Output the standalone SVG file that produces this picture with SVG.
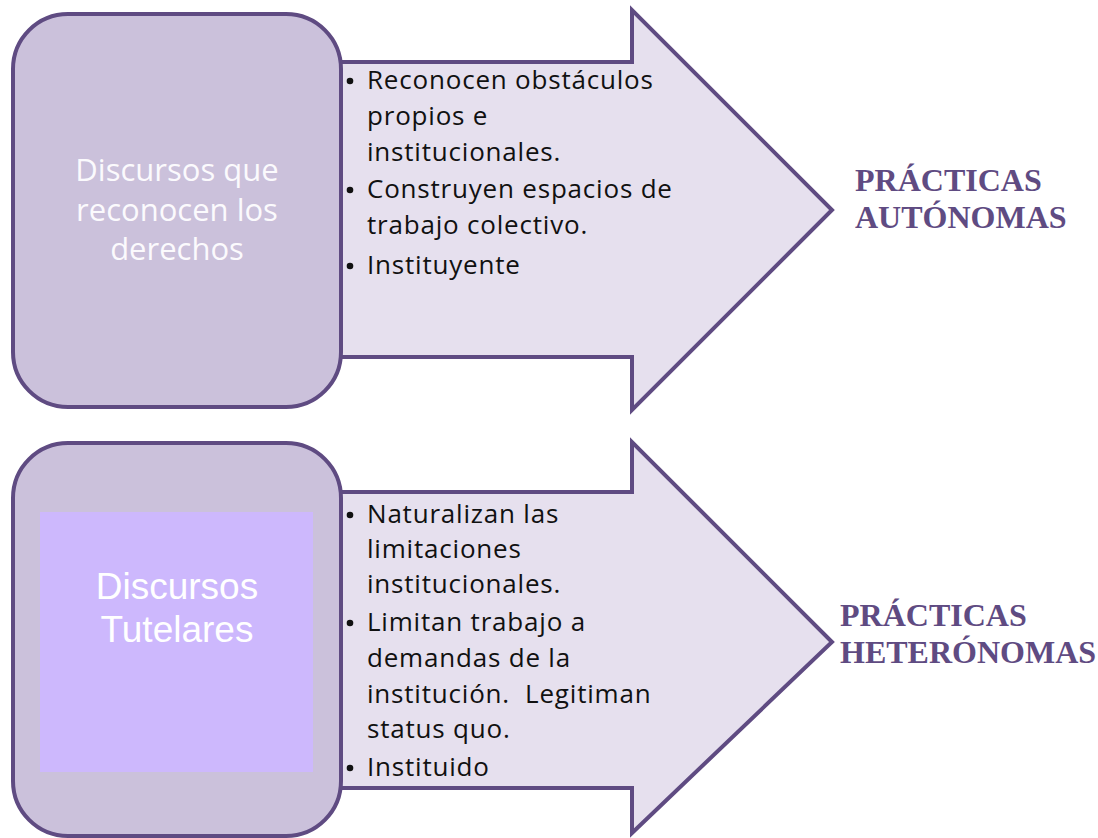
<svg xmlns="http://www.w3.org/2000/svg" width="1098" height="838" viewBox="0 0 1098 838">
<style>
.box{fill:#cbc1db;stroke:#5f4b82;stroke-width:4}
.arrow{fill:#e6e0ee;stroke:#5f4b82;stroke-width:4;stroke-linejoin:miter}
.bul{font-family:"Open Sans","Liberation Sans",sans-serif;font-size:26px;letter-spacing:0.8px;fill:#111}
.lbl{font-family:"Open Sans","Liberation Sans",sans-serif;font-size:31px;fill:#fbfafd;text-anchor:middle}
.lbl2{font-family:"Liberation Sans",Arial,sans-serif;font-size:37px;fill:#ffffff;text-anchor:middle}
.out{font-family:"Liberation Serif","Times New Roman",serif;font-weight:bold;font-size:32px;fill:#5f4b82}
.dot{fill:#111}
</style>
<rect width="1098" height="838" fill="#ffffff"/>
<g id="connectors">
<path class="arrow" d="M338,62 H632 V10 L832,210 L632,410 V357 H338 Z"/>
<path class="arrow" d="M338,492 H632 V442 L832,642 L632,833 V788 H338 Z"/>
</g>
<g id="node-derechos">
<rect class="box" x="13" y="14" width="328" height="393" rx="55" ry="55"/>
<text class="lbl" x="177" y="181">Discursos que</text>
<text class="lbl" x="177" y="221">reconocen los</text>
<text class="lbl" x="177" y="260">derechos</text>
</g>
<g id="node-tutelares">
<rect class="box" x="13" y="443" width="328" height="393" rx="55" ry="55"/>
<rect x="40" y="512" width="273" height="260" fill="#cdb8fd"/>
<text class="lbl2" x="177" y="599">Discursos</text>
<text class="lbl2" x="177" y="642">Tutelares</text>
</g>
<g id="list-top">
<circle class="dot" cx="350" cy="81" r="3.3"/>
<circle class="dot" cx="350" cy="190" r="3.3"/>
<circle class="dot" cx="350" cy="266" r="3.3"/>
<text class="bul" x="367" y="89">Reconocen obstáculos</text>
<text class="bul" x="367" y="125">propios e</text>
<text class="bul" x="367" y="161">institucionales.</text>
<text class="bul" x="367" y="198">Construyen espacios de</text>
<text class="bul" x="367" y="234">trabajo colectivo.</text>
<text class="bul" x="367" y="274">Instituyente</text>
</g>
<g id="list-bottom">
<circle class="dot" cx="350" cy="515" r="3.3"/>
<circle class="dot" cx="350" cy="623" r="3.3"/>
<circle class="dot" cx="350" cy="768" r="3.3"/>
<text class="bul" x="367" y="523">Naturalizan las</text>
<text class="bul" x="367" y="558">limitaciones</text>
<text class="bul" x="367" y="593">institucionales.</text>
<text class="bul" x="367" y="631">Limitan trabajo a</text>
<text class="bul" x="367" y="667">demandas de la</text>
<text class="bul" x="367" y="703" xml:space="preserve">institución.  Legitiman</text>
<text class="bul" x="367" y="738">status quo.</text>
<text class="bul" x="367" y="776">Instituido</text>
</g>
<g id="node-autonomas">
<text class="out" x="855" y="191">PRÁCTICAS</text>
<text class="out" x="855" y="228">AUTÓNOMAS</text>
</g>
<g id="node-heteronomas">
<text class="out" x="840" y="626">PRÁCTICAS</text>
<text class="out" x="840" y="663">HETERÓNOMAS</text>
</g>
</svg>
